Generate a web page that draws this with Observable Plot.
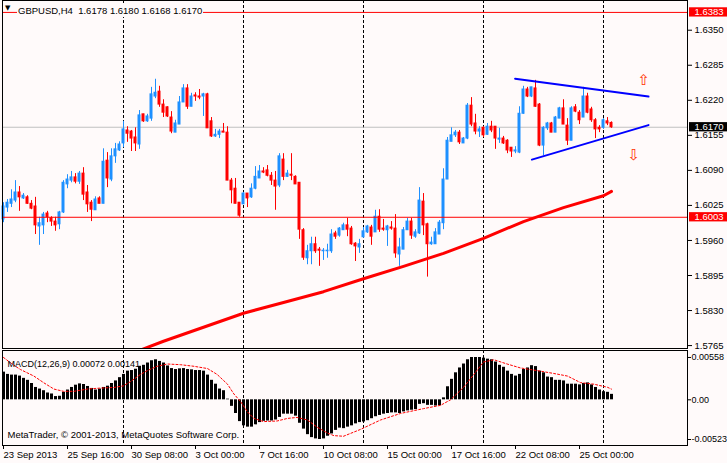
<!DOCTYPE html>
<html><head><meta charset="utf-8">
<script src="https://cdn.jsdelivr.net/npm/d3@7"></script>
<script src="https://cdn.jsdelivr.net/npm/@observablehq/plot@0.6"></script>
<style>
html,body{margin:0;padding:0;background:#fffafa;}
#wrap{position:relative;width:727px;height:463px;overflow:hidden;background:#fffafa;font-family:"Liberation Sans",Arial,sans-serif;color:#000;}
#main,#macd{position:absolute;left:0;}
#main{top:0;}
#macd{top:349px;}
#tri{position:absolute;left:5px;top:4px;font:7px "DejaVu Sans",sans-serif;line-height:9px;}
#hdr{position:absolute;left:17px;top:4px;height:13px;line-height:13px;padding:0 1px;background:#fffafa;font-size:9.5px;white-space:pre;}
</style></head>
<body>
<div id="wrap"><div id="main"></div><div id="macd"></div><div id="tri">▼</div><div id="hdr"></div></div>
<script>
// ---- header ----
const symbol = "GBPUSD,H4";
const lastOHLC = ["1.6178", "1.6180", "1.6168", "1.6170"];

// ---- candles (H4, index 0 = 23 Sep 2013 00:00) ----
const openP = [1.5999,1.6021,1.6028,1.6034,1.6049,1.6038,1.6040,1.6028,1.6023,1.5986,
1.5988,1.6010,1.6001,1.5995,1.5990,1.6012,1.6064,1.6071,1.6077,1.6069,
1.6084,1.6049,1.6030,1.6016,1.6038,1.6028,1.6108,1.6073,1.6116,1.6127,
1.6140,1.6164,1.6162,1.6151,1.6138,1.6194,1.6181,1.6186,1.6227,1.6236,
1.6212,1.6207,1.6188,1.6160,1.6175,1.6216,1.6242,1.6208,1.6229,1.6227,
1.6227,1.6231,1.6181,1.6153,1.6156,1.6162,1.6160,1.6071,1.6056,1.6030,
1.6027,1.6047,1.6040,1.6056,1.6075,1.6088,1.6090,1.6080,1.6071,1.6062,
1.6110,1.6078,1.6082,1.6078,1.6067,1.5979,1.5927,1.5940,1.5953,1.5943,
1.5940,1.5940,1.5940,1.5973,1.5969,1.5979,1.5988,1.5982,1.5954,1.5947,
1.5966,1.5975,1.5984,1.5975,1.6004,1.5982,1.5979,1.5984,1.5982,1.5934,
1.5943,1.5979,1.5995,1.5967,1.5973,1.6032,1.5990,1.5953,1.5953,1.5971,
1.5992,1.6073,1.6143,1.6155,1.6160,1.6140,1.6149,1.6210,1.6177,1.6162,
1.6169,1.6156,1.6171,1.6171,1.6147,1.6149,1.6145,1.6132,1.6125,1.6123,
1.6195,1.6240,1.6227,1.6242,1.6212,1.6136,1.6168,1.6177,1.6160,1.6186,
1.6205,1.6173,1.6145,1.6207,1.6197,1.6188,1.6227,1.6203,1.6183,1.6169,
1.6169,1.6181,1.6178];
const highP = [1.6030,1.6036,1.6054,1.6071,1.6060,1.6047,1.6043,1.6034,1.6040,1.6003,
1.6012,1.6014,1.6004,1.6003,1.6014,1.6071,1.6082,1.6088,1.6084,1.6088,
1.6095,1.6062,1.6034,1.6041,1.6041,1.6130,1.6123,1.6130,1.6140,1.6143,
1.6181,1.6171,1.6164,1.6169,1.6201,1.6194,1.6194,1.6244,1.6259,1.6246,
1.6221,1.6208,1.6199,1.6183,1.6227,1.6249,1.6249,1.6233,1.6234,1.6240,
1.6233,1.6233,1.6188,1.6166,1.6166,1.6177,1.6171,1.6075,1.6075,1.6030,
1.6049,1.6047,1.6065,1.6097,1.6099,1.6095,1.6099,1.6086,1.6088,1.6121,
1.6121,1.6090,1.6121,1.6080,1.6067,1.5982,1.5951,1.5966,1.5966,1.5947,
1.5945,1.5953,1.5980,1.5977,1.5984,1.5992,1.6001,1.5986,1.5956,1.5962,
1.5984,1.5988,1.5988,1.6016,1.6017,1.5999,1.5988,1.5995,1.6008,1.5964,
1.5984,1.6001,1.6001,1.5980,1.6058,1.6047,1.5992,1.5966,1.5982,1.5997,
1.6093,1.6151,1.6169,1.6164,1.6164,1.6151,1.6214,1.6225,1.6194,1.6171,
1.6171,1.6177,1.6181,1.6171,1.6168,1.6153,1.6147,1.6132,1.6134,1.6208,
1.6246,1.6244,1.6244,1.6257,1.6214,1.6171,1.6179,1.6179,1.6190,1.6207,
1.6221,1.6186,1.6208,1.6212,1.6201,1.6244,1.6233,1.6207,1.6186,1.6173,
1.6186,1.6188,1.6180];
const lowP = [1.5993,1.6012,1.6021,1.6030,1.6014,1.6036,1.6027,1.6017,1.5971,1.5951,
1.5971,1.5993,1.5986,1.5977,1.5980,1.6010,1.6056,1.6067,1.6065,1.6064,
1.6034,1.6012,1.5995,1.6016,1.6028,1.6028,1.6058,1.6069,1.6103,1.6125,
1.6132,1.6142,1.6125,1.6125,1.6129,1.6179,1.6179,1.6181,1.6223,1.6207,
1.6188,1.6188,1.6158,1.6160,1.6175,1.6216,1.6203,1.6208,1.6218,1.6221,
1.6190,1.6168,1.6151,1.6151,1.6149,1.6160,1.6071,1.6028,1.6028,1.6003,
1.6027,1.6021,1.6038,1.6054,1.6075,1.6084,1.6078,1.6062,1.6016,1.6058,
1.6071,1.6077,1.6071,1.6064,1.5962,1.5923,1.5915,1.5915,1.5936,1.5912,
1.5923,1.5927,1.5936,1.5962,1.5966,1.5979,1.5967,1.5951,1.5921,1.5936,
1.5964,1.5973,1.5951,1.5975,1.5975,1.5977,1.5949,1.5979,1.5927,1.5912,
1.5943,1.5979,1.5962,1.5964,1.5971,1.5969,1.5892,1.5951,1.5953,1.5971,
1.5980,1.6073,1.6143,1.6151,1.6138,1.6140,1.6147,1.6171,1.6156,1.6151,
1.6151,1.6155,1.6160,1.6129,1.6140,1.6138,1.6121,1.6114,1.6121,1.6121,
1.6194,1.6225,1.6225,1.6207,1.6134,1.6117,1.6164,1.6160,1.6160,1.6186,
1.6175,1.6136,1.6145,1.6197,1.6175,1.6188,1.6195,1.6179,1.6149,1.6160,
1.6166,1.6173,1.6168];
const closeP = [1.6023,1.6030,1.6036,1.6049,1.6040,1.6043,1.6028,1.6019,1.5988,1.5992,
1.6008,1.6003,1.5995,1.5988,1.6012,1.6067,1.6073,1.6077,1.6069,1.6084,
1.6045,1.6027,1.6017,1.6036,1.6028,1.6106,1.6075,1.6116,1.6129,1.6138,
1.6166,1.6158,1.6149,1.6140,1.6192,1.6181,1.6190,1.6231,1.6234,1.6212,
1.6197,1.6190,1.6162,1.6177,1.6216,1.6242,1.6208,1.6227,1.6227,1.6225,
1.6231,1.6168,1.6153,1.6156,1.6162,1.6160,1.6071,1.6053,1.6028,1.6006,
1.6047,1.6038,1.6056,1.6078,1.6088,1.6086,1.6080,1.6071,1.6060,1.6116,
1.6078,1.6084,1.6080,1.6064,1.5980,1.5928,1.5940,1.5953,1.5940,1.5941,
1.5941,1.5941,1.5971,1.5967,1.5982,1.5988,1.5980,1.5953,1.5949,1.5953,
1.5977,1.5986,1.5967,1.6004,1.5980,1.5980,1.5986,1.5982,1.5936,1.5947,
1.5979,1.5995,1.5969,1.5975,1.6034,1.5988,1.5953,1.5956,1.5975,1.5993,
1.6073,1.6145,1.6155,1.6160,1.6142,1.6149,1.6210,1.6175,1.6162,1.6166,
1.6155,1.6171,1.6164,1.6149,1.6149,1.6140,1.6127,1.6125,1.6127,1.6195,
1.6240,1.6227,1.6244,1.6208,1.6136,1.6169,1.6177,1.6160,1.6188,1.6205,
1.6175,1.6145,1.6205,1.6199,1.6183,1.6227,1.6197,1.6183,1.6166,1.6166,
1.6183,1.6177,1.6170];

// ---- moving average (read at sampled bars) ----
const maIdx = [34,40,50,60,70,80,90,100,110,120,130,140,150,152];
const maVal = [1.5756,1.5773,1.5799,1.5825,1.5845,1.5865,1.5889,1.5912,1.5936,1.5964,1.5995,1.6021,1.6043,1.6051];

// ---- horizontal levels ----
const redLevels = [1.6383, 1.6003];
const bidPrice = 1.6170;

// ---- trend lines (triangle) ----
const upperLineIdx = [127.9, 161.25];
const upperLineVal = [1.6260, 1.6227];
const lowerLineIdx = [132.1, 161.25];
const lowerLineVal = [1.6110, 1.6174];

// ---- arrow objects ----
const arrowIdx = [160.1, 157.6];
const arrowVal = [1.6258, 1.6118];
const arrowGlyph = ["⇧", "⇩"];

// ---- axes ----
const priceTicks = [1.6350,1.6285,1.6220,1.6155,1.6090,1.6025,1.5960,1.5895,1.5830,1.5765];
const timeIdx = [0,16,32,48,64,80,96,112,128,144];
const timeLabels = ["23 Sep 2013","25 Sep 16:00","30 Sep 08:00","3 Oct 00:00","7 Oct 16:00","10 Oct 08:00","15 Oct 00:00","17 Oct 16:00","22 Oct 08:00","25 Oct 00:00"];
const gridIdx = [30,60,90,120,150];

// ---- MACD(12,26,9) ----
const macdHist = [0.00365,0.00335,0.00326,0.00326,0.00313,0.00283,0.00257,0.00215,0.00163,0.00142,
0.00120,0.00090,0.00077,0.00043,0.00047,0.00099,0.00129,0.00163,0.00193,0.00210,
0.00202,0.00176,0.00150,0.00129,0.00142,0.00163,0.00180,0.00215,0.00249,0.00292,
0.00335,0.00378,0.00386,0.00403,0.00442,0.00455,0.00485,0.00515,0.00528,0.00506,
0.00485,0.00446,0.00412,0.00399,0.00408,0.00412,0.00399,0.00395,0.00386,0.00386,
0.00378,0.00326,0.00257,0.00206,0.00142,0.00120,0.00009,-0.00086,-0.00180,-0.00287,
-0.00343,-0.00360,-0.00360,-0.00330,-0.00300,-0.00283,-0.00279,-0.00279,-0.00266,-0.00232,
-0.00189,-0.00189,-0.00189,-0.00215,-0.00309,-0.00386,-0.00459,-0.00498,-0.00515,-0.00523,
-0.00515,-0.00480,-0.00450,-0.00403,-0.00373,-0.00380,-0.00360,-0.00343,-0.00317,-0.00300,
-0.00292,-0.00275,-0.00249,-0.00223,-0.00206,-0.00189,-0.00180,-0.00172,-0.00172,-0.00180,
-0.00159,-0.00146,-0.00137,-0.00129,-0.00060,-0.00051,-0.00073,-0.00073,-0.00082,-0.00077,
0.00026,0.00172,0.00270,0.00356,0.00420,0.00472,0.00528,0.00558,0.00558,0.00558,
0.00549,0.00536,0.00528,0.00498,0.00455,0.00429,0.00378,0.00335,0.00313,0.00335,
0.00399,0.00420,0.00450,0.00438,0.00378,0.00356,0.00300,0.00292,0.00257,0.00257,
0.00249,0.00206,0.00206,0.00206,0.00197,0.00215,0.00223,0.00197,0.00163,0.00129,
0.00107,0.00099,0.00072];
const signalIdx = [0,2.6,4.25,7.6,10,12.6,15,17.6,21,24,27.6,30,31.75,34.25,36,38.4,41,44.25,47.6,51,53.4,56,57.6,59.25,61,62.6,65,68.4,71,73.4,76,78.4,81,82.6,85,89.25,94.25,99.25,105,109.25,111.75,115,117.6,120,122.6,125.9,129.25,131.75,134.25,137.6,141,144.25,147.6,151,152];
const signalVal = [0.00558,0.00455,0.00399,0.00313,0.00227,0.00142,0.00112,0.00112,0.00142,0.00154,0.00163,0.00184,0.0024,0.00335,0.00386,0.00442,0.00472,0.00463,0.00442,0.00412,0.00335,0.00206,0.00077,-0.00021,-0.00159,-0.00245,-0.00287,-0.00279,-0.00245,-0.00232,-0.00266,-0.0036,-0.00438,-0.00472,-0.0048,-0.0039,-0.00266,-0.0018,-0.00116,-0.00073,0,0.00163,0.00335,0.00498,0.00528,0.00472,0.0042,0.00399,0.00378,0.00347,0.00313,0.00227,0.00206,0.00165,0.00141];
const macdTicks = [0.00558, 0, -0.00523];
const macdTickLabels = ["0.00558", "0.00", "-0.00523"];
const macdTitle = "MACD(12,26,9) 0.00072 0.00141";
const copyright = "MetaTrader, © 2001-2013, MetaQuotes Software Corp.";

// ---- build ----
document.getElementById("hdr").textContent = symbol + "  " + lastOHLC.join(" ");
const BULL = "#1e90ff", BEAR = "#ff0000";
const X_DOMAIN = [-0.25, 171];
const FONT = '"Liberation Sans", Arial, sans-serif';
const candles = openP.map((o, i) => ({i, o, h: highP[i], l: lowP[i], c: closeP[i], col: closeP[i] >= o ? BULL : BEAR}));
const maData = maIdx.map((i, k) => ({i, v: maVal[k]}));
const trend = [
  ...upperLineIdx.map((i, k) => ({id: "u", i, p: upperLineVal[k]})),
  ...lowerLineIdx.map((i, k) => ({id: "l", i, p: lowerLineVal[k]}))
];
const arrows = arrowIdx.map((i, k) => ({i, p: arrowVal[k], s: arrowGlyph[k]}));
const levelBoxes = [
  ...redLevels.map(p => ({p, col: "#ff0000"})),
  {p: bidPrice, col: "#000000"}
];
const BOX_HALF = 0.00086;

const mainPlot = Plot.plot({
  width: 727, height: 350,
  marginLeft: 2, marginRight: 40, marginTop: 0, marginBottom: 2,
  style: {fontFamily: FONT, fontSize: "9.5px", background: "transparent", color: "#000", overflow: "visible"},
  x: {type: "linear", domain: X_DOMAIN, axis: null},
  y: {domain: [1.57596, 1.64051], axis: null},
  marks: [
    Plot.ruleX(gridIdx, {stroke: "#000", strokeDasharray: "3 2"}),
    Plot.ruleY([bidPrice], {stroke: "#c0c0c0"}),
    Plot.ruleX(candles, {x: "i", y1: "l", y2: "h", stroke: "col"}),
    Plot.rect(candles, {x1: d => d.i - 0.375, x2: d => d.i + 0.375, y1: "o", y2: "c", fill: "col", insetTop: -0.5, insetBottom: -0.5}),
    Plot.ruleY(redLevels, {stroke: "#ff0000"}),
    Plot.line(maData, {x: "i", y: "v", stroke: "#ff0000", strokeWidth: 3, clip: true}),
    Plot.line(trend, {x: "i", y: "p", z: "id", stroke: "#0000ff", strokeWidth: 2}),
    Plot.text(arrows, {x: "i", y: "p", text: "s", fill: "#ff3300", fontSize: 15, fontFamily: "DejaVu Sans"}),
    Plot.axisY(priceTicks, {anchor: "right", label: null, tickSize: 4, tickPadding: 3, tickFormat: d => d.toFixed(4)}),
    Plot.rect(levelBoxes, {x1: X_DOMAIN[1] + 0.5, x2: X_DOMAIN[1] + 10.5, y1: d => d.p - BOX_HALF, y2: d => d.p + BOX_HALF, fill: "col"}),
    Plot.text(levelBoxes, {y: "p", text: d => d.p.toFixed(4), frameAnchor: "right", dx: 7, textAnchor: "start", fill: "#fff"}),
    Plot.frame({stroke: "#000"})
  ]
});
document.getElementById("main").appendChild(mainPlot);

const macdData = macdHist.map((v, i) => ({i, v}));
const sigData = signalIdx.map((i, k) => ({i, v: signalVal[k]}));
const macdPlot = Plot.plot({
  width: 727, height: 114,
  marginLeft: 2, marginRight: 40, marginTop: 1, marginBottom: 18,
  style: {fontFamily: FONT, fontSize: "9.5px", background: "transparent", color: "#000", overflow: "visible"},
  x: {type: "linear", domain: X_DOMAIN, axis: null},
  y: {domain: [-0.00602, 0.0065], axis: null},
  marks: [
    Plot.ruleX(gridIdx, {stroke: "#000", strokeDasharray: "3 2"}),
    Plot.ruleX(macdData, {x: "i", y1: 0, y2: "v", stroke: "#000", strokeWidth: 3}),
    Plot.line(sigData, {x: "i", y: "v", stroke: "#ff0000", strokeWidth: 1, strokeDasharray: "2 2"}),
    Plot.text([macdTitle], {text: d => d, frameAnchor: "top-left", dx: 5, dy: 10, textAnchor: "start", fontSize: 9}),
    Plot.text([copyright], {text: d => d, frameAnchor: "bottom-left", dx: 5, dy: -8, textAnchor: "start"}),
    Plot.axisY(macdTicks, {anchor: "right", label: null, tickSize: 3, tickPadding: 1, fontSize: 9, tickFormat: d => macdTickLabels[macdTicks.indexOf(d)]}),
    Plot.axisX(timeIdx, {anchor: "bottom", label: null, tickSize: 4, tickPadding: 2, textAnchor: "start", tickFormat: d => timeLabels[timeIdx.indexOf(d)]}),
    Plot.frame({stroke: "#000"})
  ]
});
document.getElementById("macd").appendChild(macdPlot);
</script>
</body></html>
